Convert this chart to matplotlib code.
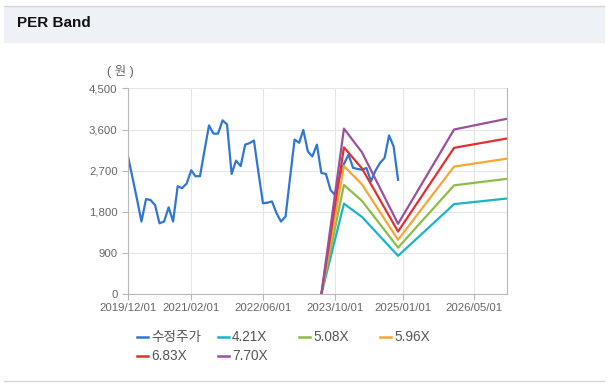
import matplotlib
matplotlib.use("Agg")
from matplotlib import pyplot as plt
from matplotlib.lines import Line2D
import matplotlib.dates as mdates
import matplotlib.ticker as mticker
import pandas as pd

plt.rcParams['font.family'] = ['Liberation Sans', 'Noto Sans CJK KR', 'DejaVu Sans']

# monthly adjusted price, 2019/12 .. 2024/12
price_dates = pd.date_range('2019-12-01', '2024-12-01', freq='MS')
price = [3010, 2540, 2060, 1590, 2080, 2060, 1950, 1550, 1590, 1900,
         1590, 2360, 2320, 2420, 2710, 2580, 2580, 3130, 3690, 3510,
         3510, 3800, 3710, 2630, 2920, 2800, 3270, 3300, 3360, 2670,
         1990, 2000, 2030, 1770, 1590, 1700, 2540, 3380, 3310, 3590,
         3120, 3010, 3270, 2650, 2630, 2280, 2170, 2550, 2850, 3050,
         2760, 2740, 2720, 2760, 2470, 2700, 2870, 2980, 3470, 3230,
         2500]

band_dates = pd.to_datetime(['2023-07-01', '2023-12-01', '2024-04-01',
                             '2024-12-01', '2025-12-15', '2026-12-01'])
band_421 = [0, 1980, 1690, 840, 1970, 2090]
band_508 = [0, 2390, 2040, 1020, 2380, 2520]
band_596 = [0, 2800, 2400, 1190, 2790, 2960]
band_683 = [0, 3210, 2750, 1370, 3200, 3400]
band_770 = [0, 3620, 3100, 1540, 3600, 3830]

labels = ['수정주가', '4.21X', '5.08X', '5.96X', '6.83X', '7.70X']
colors = ['#2f76d6', '#18b4c9', '#8cbd45', '#f7a632', '#e0312b', '#9a509f']
xticks = pd.to_datetime(['2019-12-01', '2021-02-01', '2022-06-01',
                         '2023-10-01', '2025-01-01', '2026-05-01'])

fig = plt.figure(figsize=(6.14, 3.91), dpi=100)

# header bar
fig.patches.append(plt.Rectangle((0.006, 1 - 42 / 391), 0.978, 36 / 391,
                                 transform=fig.transFigure, color='#eef2f7', zorder=0))
fig.add_artist(Line2D([0.006, 0.984], [1 - 6 / 391, 1 - 6 / 391],
                      transform=fig.transFigure, color='#d3d7dd', lw=1))
fig.add_artist(Line2D([0.006, 0.984], [1 - 381 / 391, 1 - 381 / 391],
                      transform=fig.transFigure, color='#d3d7dd', lw=1))
fig.text(0.027, 1 - 23 / 391, 'PER Band', fontsize=11, fontweight='bold',
         va='center', color='#111')

ax = fig.add_axes([128 / 614, 1 - 294.3 / 391, 378.7 / 614, 206 / 391])

ax.plot(price_dates, price, color=colors[0], lw=1.6)
bands = [band_421, band_508, band_596, band_683, band_770]
for vals, c in zip(bands, colors[1:]):
    ax.plot(band_dates, vals, color=c, lw=1.6)

ax.set_xlim(pd.Timestamp('2019-12-01'), pd.Timestamp('2026-12-06'))
ax.set_ylim(0, 4500)
ax.set_yticks(range(0, 4501, 900))
ax.yaxis.set_major_formatter(mticker.FuncFormatter(lambda v, p: f'{int(v):,}'))
ax.set_xticks(xticks)
ax.xaxis.set_major_formatter(mdates.DateFormatter('%Y/%m/%d'))

ax.grid(True, color='#e6e6e6', lw=0.8)
ax.set_axisbelow(True)
for s in ['left', 'bottom', 'right']:
    ax.spines[s].set_color('#b8b8b8')
ax.spines['top'].set_visible(False)
ax.tick_params(axis='both', colors='#b8b8b8', labelcolor='#666666',
               labelsize=8.2, length=4, width=0.8)
ax.tick_params(axis='x', pad=2)

fig.text(120 / 614, 1 - 72 / 391, '( 원 )', fontsize=9, color='#666666',
         ha='center', va='center')

# legend
for i, (lab, c) in enumerate(zip(labels, colors)):
    col, row = i % 4, i // 4
    x0 = (137 + col * 81) / 614
    y0 = 1 - (337 + row * 19) / 391
    fig.add_artist(Line2D([x0, x0 + 11 / 614], [y0, y0], transform=fig.transFigure,
                          color=c, lw=1.8))
    fig.text(x0 + 14 / 614, y0, lab, fontsize=9.8, color='#555555', va='center')

fig.savefig('out.png', dpi=100)
